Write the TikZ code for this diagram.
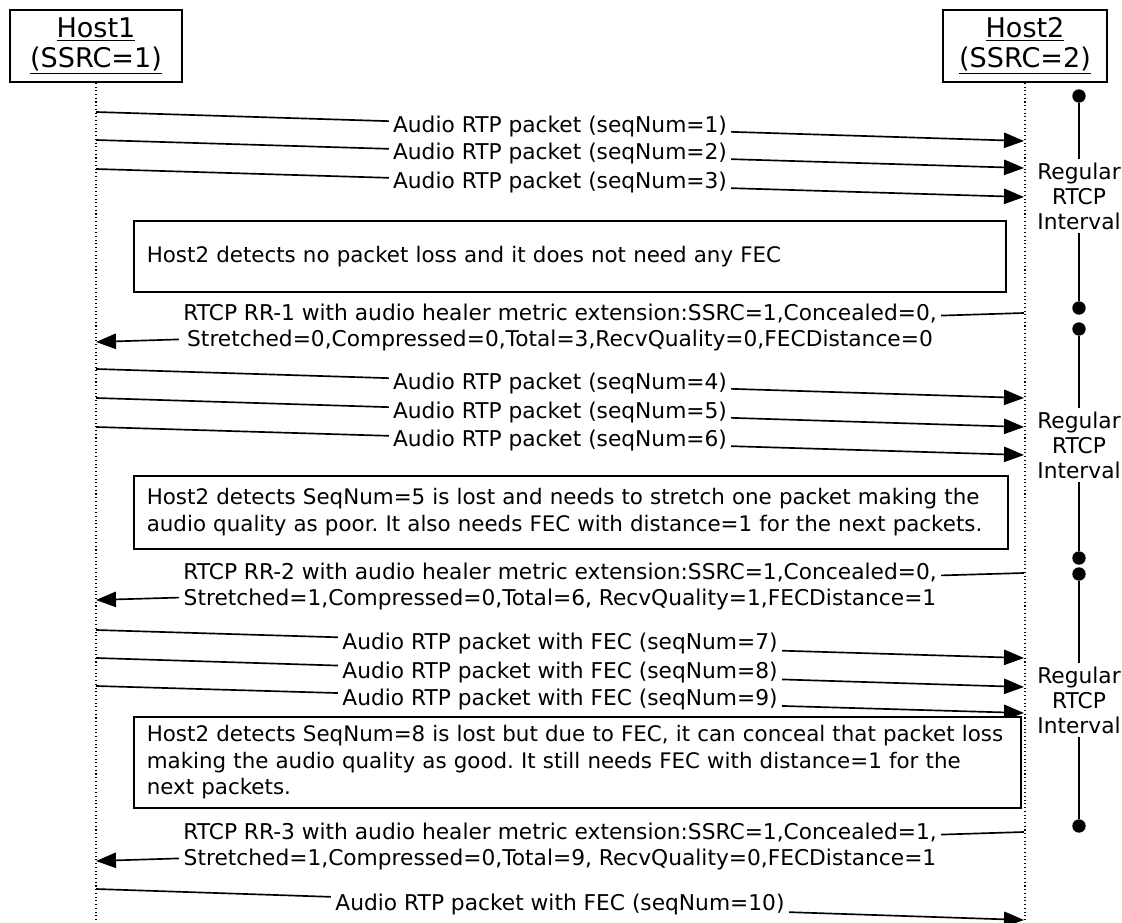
\documentclass[tikz,border=0pt]{standalone}
\usepackage{fontspec}
\setmainfont{DejaVu Sans}
\usetikzlibrary{arrows.meta}
\newcommand\msgfont{\fontsize{16.3}{20}\selectfont}
\newcommand\notefont{\fontsize{16.05}{20}\selectfont}
\newcommand\hdrfont{\fontsize{20.3}{22.5}\selectfont}
\newcommand\ivfont{\fontsize{16.3}{18.75}\selectfont}
\frenchspacing
\hbadness=10000 \hfuzz=100pt
\begin{document}
\begin{tikzpicture}[x=0.75pt,y=-0.75pt,
  hostbox/.style={draw,line width=1.2pt,font=\hdrfont,align=center,inner sep=0pt},
  lifeline/.style={dotted,line width=0.8pt},
  msg/.style={line width=1.25pt,-{Triangle[length=15pt,width=11.5pt]}},
  lbl/.style={fill=white,font=\msgfont,align=center,inner xsep=3pt,inner ysep=1pt},
  notebox/.style={draw,line width=1.2pt,font=\notefont,align=left,anchor=north west,inner xsep=9.75pt,inner ysep=0pt},
  ivlabel/.style={font=\ivfont,align=center,inner xsep=0pt,inner ysep=2.5pt},
  ivline/.style={line width=1.2pt},
  dotn/.style={circle,fill=black,inner sep=0pt,minimum size=10pt}]
\useasboundingbox (0,0) rectangle (1122,923);
% hosts
\node[hostbox,minimum width=172*0.75pt,minimum height=72*0.75pt] (h1) at (96,46) {\underline{Host1}\\\underline{(SSRC=1)}};
\node[hostbox,minimum width=164*0.75pt,minimum height=72*0.75pt] (h2) at (1025,46) {\underline{Host2}\\\underline{(SSRC=2)}};
\coordinate (h1end) at (96,923);
\coordinate (h2end) at (1025,923);
\draw[lifeline] (h1.south) -- (h1end);
\draw[lifeline] (h2.south) -- (h2end);
% audio packets 1-3
\coordinate (s1) at (96,112); \coordinate (e1) at (1024,141);
\coordinate (s2) at (96,140); \coordinate (e2) at (1024,168);
\coordinate (s3) at (96,169); \coordinate (e3) at (1024,197);
\draw[msg] (s1) -- node[lbl] (l1) {Audio RTP packet (seqNum=1)} (e1);
\draw[msg] (s2) -- node[lbl] (l2) {Audio RTP packet (seqNum=2)} (e2);
\draw[msg] (s3) -- node[lbl] (l3) {Audio RTP packet (seqNum=3)} (e3);
% note 1
\node[notebox,minimum width=872*0.75pt,minimum height=71*0.75pt,text width=846*0.75pt] (n1) at (133,220) {\mbox{Host2 detects no packet loss and it does not need any FEC}};
% RTCP 1
\coordinate (r1s) at (1024,313); \coordinate (r1e) at (96,342);
\draw[msg] (r1s) -- node[lbl] (rl1) {RTCP RR-1 with audio healer metric extension:SSRC=1,Concealed=0,\\Stretched=0,Compressed=0,Total=3,RecvQuality=0,FECDistance=0} (r1e);
% audio packets 4-6
\coordinate (s4) at (96,369); \coordinate (e4) at (1024,398);
\coordinate (s5) at (96,398); \coordinate (e5) at (1024,427);
\coordinate (s6) at (96,427); \coordinate (e6) at (1024,455);
\draw[msg] (s4) -- node[lbl] (l4) {Audio RTP packet (seqNum=4)} (e4);
\draw[msg] (s5) -- node[lbl] (l5) {Audio RTP packet (seqNum=5)} (e5);
\draw[msg] (s6) -- node[lbl] (l6) {Audio RTP packet (seqNum=6)} (e6);
% note 2
\node[notebox,minimum width=874*0.75pt,minimum height=73*0.75pt,text width=848*0.75pt] (n2) at (133,475) {\mbox{Host2 detects SeqNum=5 is lost and needs to stretch one packet making the}\\\mbox{audio quality as poor. It also needs FEC with distance=1 for the next packets.}};
% RTCP 2
\coordinate (r2s) at (1024,573); \coordinate (r2e) at (96,600);
\draw[msg] (r2s) -- node[lbl] (rl2) {RTCP RR-2 with audio healer metric extension:SSRC=1,Concealed=0,\\Stretched=1,Compressed=0,Total=6, RecvQuality=1,FECDistance=1} (r2e);
% audio packets 7-9
\coordinate (s7) at (96,630); \coordinate (e7) at (1024,658);
\coordinate (s8) at (96,658); \coordinate (e8) at (1024,687);
\coordinate (s9) at (96,686); \coordinate (e9) at (1024,713);
\draw[msg] (s7) -- node[lbl] (l7) {Audio RTP packet with FEC (seqNum=7)} (e7);
\draw[msg] (s8) -- node[lbl] (l8) {Audio RTP packet with FEC (seqNum=8)} (e8);
\draw[msg] (s9) -- node[lbl] (l9) {Audio RTP packet with FEC (seqNum=9)} (e9);
% note 3
\node[notebox,fill=white,minimum width=887*0.75pt,minimum height=91*0.75pt,text width=861*0.75pt] (n3) at (133,716) {\mbox{Host2 detects SeqNum=8 is lost but due to FEC, it can conceal that packet loss}\\\mbox{making the audio quality as good. It still needs FEC with distance=1 for the}\\\mbox{next packets.}};
% RTCP 3
\coordinate (r3s) at (1024,832); \coordinate (r3e) at (96,861);
\draw[msg] (r3s) -- node[lbl] (rl3) {RTCP RR-3 with audio healer metric extension:SSRC=1,Concealed=1,\\Stretched=1,Compressed=0,Total=9, RecvQuality=0,FECDistance=1} (r3e);
% audio packet 10
\coordinate (s10) at (96,889); \coordinate (e10) at (1024,920);
\draw[msg] (s10) -- node[lbl] (l10) {Audio RTP packet with FEC (seqNum=10)} (e10);
% RTCP intervals
\node[dotn] (d1a) at (1079,96) {};
\node[dotn] (d1b) at (1079,308) {};
\node[ivlabel] (iv1) at (1079,196) {Regular\\RTCP\\Interval};
\draw[ivline] (d1a) -- (iv1.north) (iv1.south) -- (d1b);
\node[dotn] (d2a) at (1079,329) {};
\node[dotn] (d2b) at (1079,558) {};
\node[ivlabel] (iv2) at (1079,445) {Regular\\RTCP\\Interval};
\draw[ivline] (d2a) -- (iv2.north) (iv2.south) -- (d2b);
\node[dotn] (d3a) at (1079,574) {};
\node[dotn] (d3b) at (1079,826) {};
\node[ivlabel] (iv3) at (1079,700) {Regular\\RTCP\\Interval};
\draw[ivline] (d3a) -- (iv3.north) (iv3.south) -- (d3b);
\end{tikzpicture}
\end{document}
